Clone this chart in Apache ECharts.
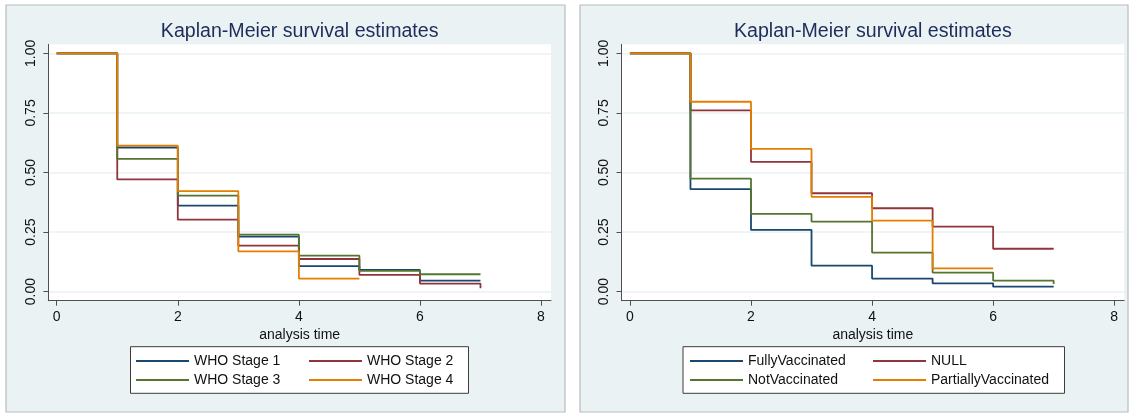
<!DOCTYPE html>
<html>
<head>
<meta charset="utf-8">
<script src="https://cdn.jsdelivr.net/npm/echarts@6/dist/echarts.min.js"></script>
<style>
  html, body { margin: 0; padding: 0; background: #ffffff; }
  #chart { width: 1131px; height: 414px; }
</style>
</head>
<body>
<div id="chart"></div>
<script>
// Kaplan-Meier survival estimates: step values S(t) at analysis times 0..7
const chartTitle = 'Kaplan-Meier survival estimates';
const xAxisName = 'analysis time';
const xTicks = [0, 2, 4, 6, 8];
const yTicks = [0, 0.25, 0.5, 0.75, 1];

// Left panel: WHO clinical stage
const stageTimes = [0, 1, 2, 3, 4, 5, 6, 7];
const stageNames = ['WHO Stage 1', 'WHO Stage 2', 'WHO Stage 3', 'WHO Stage 4'];
const whoStage1 = [1.00, 0.605, 0.361, 0.231, 0.107, 0.091, 0.046, 0.046];
const whoStage2 = [1.00, 0.471, 0.302, 0.193, 0.137, 0.070, 0.034, 0.014];
const whoStage3 = [1.00, 0.557, 0.403, 0.239, 0.151, 0.087, 0.073, 0.073];
const whoStage4 = [1.00, 0.613, 0.422, 0.169, 0.055, 0.055];

// Right panel: vaccination status
const vaccTimes = [0, 1, 2, 3, 4, 5, 6, 7];
const vaccNames = ['FullyVaccinated', 'NULL', 'NotVaccinated', 'PartiallyVaccinated'];
const fullyVaccinated = [1.00, 0.430, 0.259, 0.109, 0.055, 0.035, 0.021, 0.021];
const nullStatus = [1.00, 0.761, 0.545, 0.413, 0.350, 0.273, 0.180, 0.180];
const notVaccinated = [1.00, 0.474, 0.326, 0.294, 0.164, 0.080, 0.046, 0.032];
const partiallyVaccinated = [1.00, 0.797, 0.599, 0.398, 0.298, 0.098, 0.098];

const lineColors = ['#1a476f', '#90353b', '#55752f', '#e37e00'];
const FONT = '"Liberation Sans", Arial, Helvetica, sans-serif';
const PANEL_BG = '#eaf2f3';
const AXIS_COLOR = '#505050';

const chart = echarts.init(document.getElementById('chart'), null, { renderer: 'canvas' });

function pairs(times, values) {
  return values.map((v, i) => [times[i], v]);
}

// panel geometry (pixels)
const panels = [
  { box: [6, 5, 559, 407], grid: [48.3, 44.3, 502.7, 256.4], legend: [130.5, 346.7, 338, 46.6],
    cols: [136, 309], names: stageNames, times: stageTimes,
    values: [whoStage1, whoStage2, whoStage3, whoStage4] },
  { box: [580, 5, 548, 407], grid: [621.5, 44.3, 502.7, 256.4], legend: [683, 346.7, 381.5, 46.6],
    cols: [690, 873], names: vaccNames, times: vaccTimes,
    values: [fullyVaccinated, nullStatus, notVaccinated, partiallyVaccinated] }
];
const legendRows = [361, 380];

const grids = [], xAxes = [], yAxes = [], series = [], legends = [], graphics = [];

panels.forEach((p, pi) => {
  // panel background and frame
  graphics.push({
    type: 'rect', z: -10, silent: true,
    shape: { x: p.box[0], y: p.box[1], width: p.box[2], height: p.box[3] },
    style: { fill: PANEL_BG, stroke: '#b8bcbe', lineWidth: 1.2 }
  });
  // legend frame
  graphics.push({
    type: 'rect', z: -5, silent: true,
    shape: { x: p.legend[0], y: p.legend[1], width: p.legend[2], height: p.legend[3] },
    style: { fill: '#ffffff', stroke: '#3c3c3c', lineWidth: 1 }
  });
  // title centred over the plot region
  graphics.push({
    type: 'text', z: 10, silent: true,
    x: p.grid[0] + p.grid[2] / 2, y: 31.7,
    style: { text: chartTitle, fill: '#1c2d5c', font: '19.6px ' + FONT,
             textAlign: 'center', textVerticalAlign: 'middle' }
  });

  grids.push({
    left: p.grid[0], top: p.grid[1], width: p.grid[2], height: p.grid[3],
    show: true, backgroundColor: '#ffffff', borderWidth: 0, containLabel: false
  });

  xAxes.push({
    type: 'value', gridIndex: pi, min: -0.139, max: 8.165,
    name: xAxisName, nameLocation: 'middle', nameGap: 24,
    nameTextStyle: { fontSize: 14, fontFamily: FONT, color: '#111' },
    axisLine: { show: true, onZero: false, lineStyle: { color: AXIS_COLOR, width: 1 } },
    axisTick: { show: true, length: 5, inside: false, customValues: xTicks,
                lineStyle: { color: AXIS_COLOR, width: 1 } },
    axisLabel: { show: true, customValues: xTicks, margin: 9, fontSize: 14,
                 fontFamily: FONT, color: '#111', formatter: v => String(v) },
    splitLine: { show: false }
  });

  yAxes.push({
    type: 'value', gridIndex: pi, min: -0.038, max: 1.038,
    axisLine: { show: true, onZero: false, lineStyle: { color: AXIS_COLOR, width: 1 } },
    axisTick: { show: true, length: 5, inside: false, customValues: yTicks,
                lineStyle: { color: AXIS_COLOR, width: 1 } },
    axisLabel: { show: true, customValues: yTicks, margin: 10, rotate: 90, fontSize: 14,
                 fontFamily: FONT, color: '#111', formatter: v => v.toFixed(2) },
    splitLine: { show: true, lineStyle: { color: PANEL_BG, width: 1.5 } }
  });

  p.names.forEach((name, si) => {
    series.push({
      name: name, type: 'line', xAxisIndex: pi, yAxisIndex: pi,
      step: 'end', symbol: 'none', animation: false,
      color: lineColors[si],
      lineStyle: { width: 1.8, color: lineColors[si] },
      data: pairs(p.times, p.values[si])
    });
    const row = Math.floor(si / 2), col = si % 2;
    legends.push({
      data: [name], left: p.cols[col], top: legendRows[row] - 8,
      padding: 0, icon: 'rect', itemWidth: 53, itemHeight: 2,
      itemTextGap: 8.5, selectedMode: false,
      textStyle: { fontSize: 14, fontFamily: FONT, color: '#111', lineHeight: 16 }
    });
  });
});

chart.setOption({
  animation: false,
  backgroundColor: '#ffffff',
  grid: grids,
  xAxis: xAxes,
  yAxis: yAxes,
  legend: legends,
  series: series,
  graphic: graphics
});
</script>
</body>
</html>
